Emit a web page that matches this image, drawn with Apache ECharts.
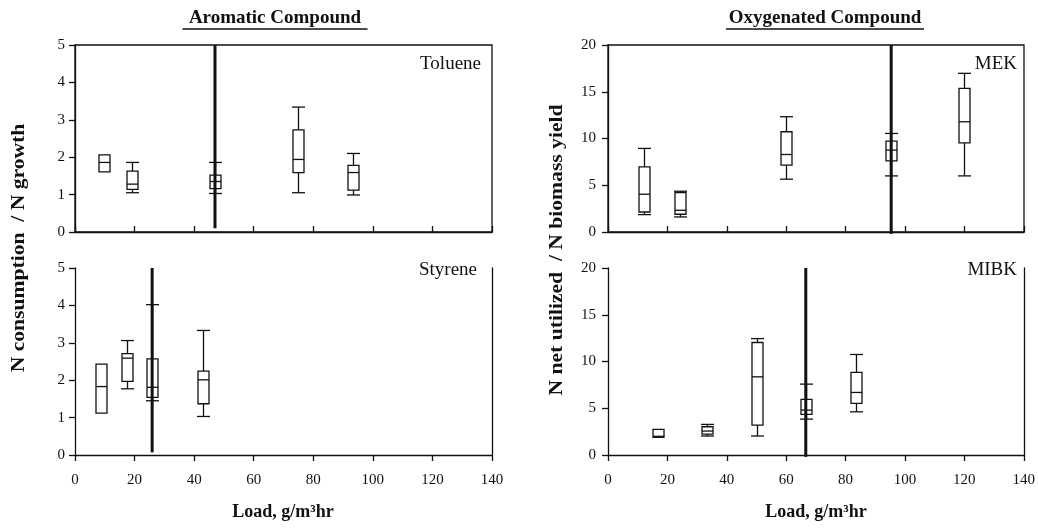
<!DOCTYPE html>
<html>
<head>
<meta charset="utf-8">
<script src="https://cdn.jsdelivr.net/npm/echarts@6/dist/echarts.min.js"></script>
<style>
html,body{margin:0;padding:0;background:#fff;}
#chart{width:1038px;height:530px;}
</style>
</head>
<body>
<div id="chart"></div>
<script>
// ---- Data ----
const xTicks = [0, 20, 40, 60, 80, 100, 120, 140];

// Toluene
const tolLoad = [9.6, 19.0, 47.1, 75.0, 93.5];
const tolMin  = [1.61, 1.05, 1.03, 1.05, 0.99];
const tolQ1   = [1.61, 1.14, 1.16, 1.59, 1.12];
const tolMed  = [1.86, 1.28, 1.35, 1.94, 1.59];
const tolQ3   = [2.06, 1.63, 1.52, 2.73, 1.78];
const tolMax  = [2.06, 1.86, 1.86, 3.34, 2.10];
const tolLimit = [47, 0.1, 5];

// Styrene
const styLoad = [8.8, 17.4, 25.8, 43.1];
const styMin  = [1.12, 1.77, 1.45, 1.03];
const styQ1   = [1.12, 1.97, 1.54, 1.37];
const styMed  = [1.83, 2.59, 1.81, 2.01];
const styQ3   = [2.43, 2.71, 2.57, 2.24];
const styMax  = [2.43, 3.06, 4.02, 3.33];
const styLimit = [25.9, 0.07, 5];

// MEK
const mekLoad = [12.0, 24.3, 60.0, 95.4, 119.9];
const mekMin  = [1.86, 1.61, 5.65, 6.0, 6.0];
const mekQ1   = [2.14, 1.90, 7.15, 7.61, 9.54];
const mekMed  = [4.04, 2.32, 8.29, 8.76, 11.79];
const mekQ3   = [6.97, 4.22, 10.72, 9.72, 15.37];
const mekMax  = [8.94, 4.36, 12.33, 10.54, 16.97];
const mekLimit = [95.3, -0.2, 20];

// MIBK
const mibLoad = [16.9, 33.2, 50.1, 66.6, 83.4];
const mibMin  = [1.89, 2.03, 2.03, 3.84, 4.62];
const mibQ1   = [1.89, 2.24, 3.20, 4.34, 5.52];
const mibMed  = [2.00, 2.56, 8.36, 4.80, 6.69];
const mibQ3   = [2.74, 3.02, 12.03, 5.94, 8.83];
const mibMax  = [2.74, 3.27, 12.45, 7.58, 10.75];
const mibLimit = [66.6, -0.2, 20];

// ---- Build ----
const FONT = 'Liberation Serif';
const INK = '#111';

function rows(load, mn, q1, med, q3, mx) {
  return load.map((x, i) => [x, mn[i], q1[i], med[i], q3[i], mx[i]]);
}

function renderBox(params, api) {
  const x = api.value(0), lo = api.value(1), q1 = api.value(2),
        med = api.value(3), q3 = api.value(4), hi = api.value(5);
  const w = 11, cw = 13;
  const pLo = api.coord([x, lo]), pQ1 = api.coord([x, q1]), pMed = api.coord([x, med]),
        pQ3 = api.coord([x, q3]), pHi = api.coord([x, hi]);
  const cx = Math.round(pMed[0]) + 0.5;
  const st = {stroke: INK, lineWidth: 1.3, fill: null};
  const ch = [];
  if (hi > q3) {
    ch.push({type: 'line', shape: {x1: cx, y1: pHi[1], x2: cx, y2: pQ3[1]}, style: st});
    ch.push({type: 'line', shape: {x1: cx - cw / 2, y1: pHi[1], x2: cx + cw / 2, y2: pHi[1]}, style: st});
  }
  if (lo < q1) {
    ch.push({type: 'line', shape: {x1: cx, y1: pLo[1], x2: cx, y2: pQ1[1]}, style: st});
    ch.push({type: 'line', shape: {x1: cx - cw / 2, y1: pLo[1], x2: cx + cw / 2, y2: pLo[1]}, style: st});
  }
  ch.push({type: 'rect', shape: {x: cx - w / 2, y: pQ3[1], width: w, height: pQ1[1] - pQ3[1]},
           style: {stroke: INK, lineWidth: 1.3, fill: '#fff'}});
  ch.push({type: 'line', shape: {x1: cx - w / 2, y1: pMed[1], x2: cx + w / 2, y2: pMed[1]}, style: st});
  return {type: 'group', children: ch};
}

const grids = [
  {left: 75, top: 45, width: 417, height: 187, show: true, borderColor: INK, borderWidth: 1.3},
  {left: 75, top: 268, width: 417, height: 187},
  {left: 608, top: 45, width: 416, height: 187, show: true, borderColor: INK, borderWidth: 1.3},
  {left: 608, top: 268, width: 416, height: 187}
];

function xAxis(gi, bottom) {
  return {
    type: 'value', gridIndex: gi, min: xTicks[0], max: xTicks[xTicks.length - 1], interval: 20,
    axisLine: {show: true, onZero: false, lineStyle: {color: INK, width: 1.3}},
    axisTick: {show: true, inside: !bottom, length: 6, lineStyle: {color: INK, width: 1.3}},
    axisLabel: {show: bottom, margin: 18, color: INK, fontFamily: FONT, fontSize: 15},
    splitLine: {show: false}
  };
}
function yAxis(gi, max, interval, margin) {
  return {
    type: 'value', gridIndex: gi, min: 0, max: max, interval: interval,
    axisLine: {show: true, lineStyle: {color: INK, width: 1.3}},
    axisTick: {show: true, inside: false, length: 6, lineStyle: {color: INK, width: 1.3}},
    axisLabel: {margin: margin, color: INK, fontFamily: FONT, fontSize: 15},
    splitLine: {show: false}
  };
}
function yRight(gi) {
  return {
    type: 'value', gridIndex: gi, position: 'right', min: 0, max: 1,
    axisLine: {show: true, lineStyle: {color: INK, width: 1.3}},
    axisTick: {show: false}, axisLabel: {show: false}, splitLine: {show: false}
  };
}

const panels = [
  {data: rows(tolLoad, tolMin, tolQ1, tolMed, tolQ3, tolMax), limit: tolLimit},
  {data: rows(styLoad, styMin, styQ1, styMed, styQ3, styMax), limit: styLimit},
  {data: rows(mekLoad, mekMin, mekQ1, mekMed, mekQ3, mekMax), limit: mekLimit},
  {data: rows(mibLoad, mibMin, mibQ1, mibMed, mibQ3, mibMax), limit: mibLimit}
];

const series = [];
panels.forEach((p, i) => {
  series.push({
    type: 'line', xAxisIndex: i, yAxisIndex: i, silent: true, symbol: 'none',
    data: [[p.limit[0], p.limit[1]], [p.limit[0], p.limit[2]]],
    lineStyle: {color: INK, width: 3}, z: 3, clip: false
  });
  series.push({
    type: 'custom', xAxisIndex: i, yAxisIndex: i, renderItem: renderBox,
    encode: {x: 0, y: [1, 2, 3, 4, 5]}, data: p.data, z: 2, clip: false
  });
});

function underlinedTitle(text, cx, y, w) {
  return {
    type: 'group', children: [
      {type: 'text', x: cx, y: y, style: {text: text, fontFamily: FONT, fontWeight: 'bold', fontSize: 19,
        fill: INK, align: 'center', verticalAlign: 'middle'}},
      {type: 'line', shape: {x1: cx - w / 2, y1: y + 11, x2: cx + w / 2, y2: y + 11}, style: {stroke: INK, lineWidth: 1.5}}
    ]
  };
}
function label(text, x, y, align, size, bold, rot, sx) {
  return {type: 'text', x: x, y: y, rotation: rot || 0, scaleX: sx || 1,
    style: {text: text, fontFamily: FONT, fontSize: size, fontWeight: bold ? 'bold' : 'normal', fill: INK,
      align: align, verticalAlign: 'middle'}};
}

const option = {
  animation: false,
  backgroundColor: '#fff',
  grid: grids,
  xAxis: [xAxis(0, false), xAxis(1, true), xAxis(2, false), xAxis(3, true)],
  yAxis: [yAxis(0, 5, 1, 10), yAxis(1, 5, 1, 10), yAxis(2, 20, 5, 12), yAxis(3, 20, 5, 12), yRight(1), yRight(3)],
  series: series,
  graphic: [
    underlinedTitle('Aromatic Compound', 275, 18, 185),
    underlinedTitle('Oxygenated Compound', 825, 18, 198),
    label('Toluene', 481, 64, 'right', 19, false),
    label('Styrene', 477, 270, 'right', 19, false),
    label('MEK', 1017, 64, 'right', 19, false),
    label('MIBK', 1017, 270, 'right', 19, false),
    label('N consumption  / N growth', 19, 248, 'center', 18, true, Math.PI / 2, 1.2),
    label('N net utilized  / N biomass yield', 557, 250, 'center', 18, true, Math.PI / 2, 1.2),
    label('Load, g/m\u00B3hr', 283, 512, 'center', 18, true),
    label('Load, g/m\u00B3hr', 816, 512, 'center', 18, true)
  ]
};

const chart = echarts.init(document.getElementById('chart'), null, {renderer: 'canvas'});
chart.setOption(option);
</script>
</body>
</html>
